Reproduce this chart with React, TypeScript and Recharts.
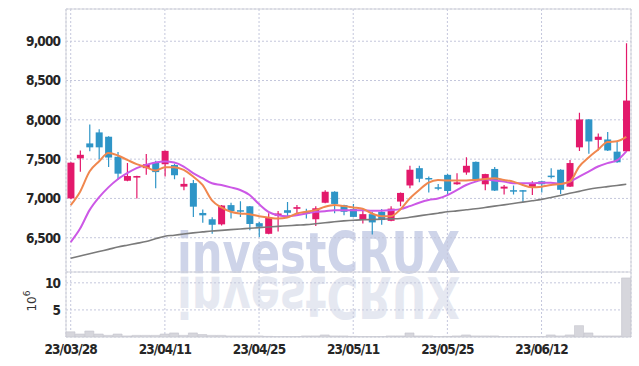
import {
  Bar,
  CartesianGrid,
  ComposedChart,
  Line,
  ReferenceArea,
  XAxis,
  YAxis,
} from "recharts";

const dates = [
  "23/03/28", "23/03/29", "23/03/30", "23/03/31", "23/04/03", "23/04/04", "23/04/05", "23/04/06", "23/04/07", "23/04/10",
  "23/04/11", "23/04/12", "23/04/13", "23/04/14", "23/04/17", "23/04/18", "23/04/19", "23/04/20", "23/04/21", "23/04/24",
  "23/04/25", "23/04/26", "23/04/27", "23/04/28", "23/05/02", "23/05/03", "23/05/04", "23/05/08", "23/05/09", "23/05/10",
  "23/05/11", "23/05/12", "23/05/15", "23/05/16", "23/05/17", "23/05/18", "23/05/19", "23/05/22", "23/05/23", "23/05/24",
  "23/05/25", "23/05/26", "23/05/30", "23/05/31", "23/06/01", "23/06/02", "23/06/05", "23/06/07", "23/06/08", "23/06/09",
  "23/06/12", "23/06/13", "23/06/14", "23/06/15", "23/06/16", "23/06/19", "23/06/20", "23/06/21", "23/06/22", "23/06/23",
];

const opens = [
  7000, 7510, 7700, 7840, 7785, 7530, 7225, 7265, 7385, 7455,
  7435, 7425, 7150, 7195, 6815, 6735, 6670, 6915, 6850, 6900,
  6685, 6550, 6780, 6850, 6868, 6830, 6735, 6945, 7085, 6915,
  6865, 6725, 6800, 6830, 6715, 6960, 7165, 7385, 7260, 7142,
  7300, 7180, 7330, 7465, 7180, 7375, 7125, 7105, 7105, 7140,
  7218, 7290, 7365, 7150, 7650, 8005, 7745, 7750, 7595, 7600,
];
const highs = [
  7460, 7610, 7940, 7880, 7790, 7590, 7450, 7290, 7565, 7480,
  7610, 7440, 7265, 7235, 6860, 6760, 6915, 6945, 6965, 6905,
  6700, 6810, 6840, 6955, 6915, 6870, 6900, 7105, 7090, 6920,
  6930, 6870, 6830, 6865, 6900, 7075, 7415, 7415, 7280, 7185,
  7310, 7320, 7525, 7470, 7315, 7400, 7170, 7165, 7108, 7220,
  7225, 7385, 7370, 7490, 8090, 8010, 7825, 7845, 7725, 8975,
];
const lows = [
  6990, 7340, 7600, 7500, 7400, 7235, 7220, 7000, 7300, 7130,
  7280, 7245, 7105, 6765, 6690, 6550, 6655, 6745, 6765, 6595,
  6510, 6545, 6580, 6765, 6808, 6745, 6650, 6940, 6810, 6785,
  6765, 6680, 6540, 6665, 6710, 6900, 7130, 7205, 7075, 7105,
  7050, 7175, 7300, 7230, 7105, 7095, 7050, 7050, 6950, 7045,
  7075, 7255, 7055, 7145, 7605, 7570, 7610, 7605, 7455, 7595,
];
const closes = [
  7455, 7555, 7650, 7650, 7520, 7315, 7285, 7285, 7435, 7335,
  7605, 7295, 7185, 6895, 6785, 6665, 6910, 6840, 6842, 6675,
  6640, 6755, 6808, 6817, 6889, 6805, 6875, 7085, 6930, 6830,
  6765, 6800, 6695, 6725, 6870, 7070, 7365, 7250, 7255, 7140,
  7095, 7205, 7415, 7235, 7310, 7100, 7150, 7100, 7102, 7185,
  7180, 7285, 7110, 7450, 8005, 7725, 7785, 7610, 7460, 8245,
];

const ma5 = [
  6915, 7086, 7342, 7470, 7577, 7547, 7491, 7436, 7398, 7355,
  7398, 7398, 7363, 7278, 7171, 6975, 6885, 6830, 6808, 6800,
  6774, 6757, 6744, 6757, 6808, 6830, 6851, 6894, 6915, 6902,
  6885, 6868, 6808, 6774, 6774, 6860, 7000, 7107, 7201, 7235,
  7227, 7227, 7227, 7235, 7248, 7257, 7235, 7214, 7171, 7141,
  7150, 7171, 7184, 7214, 7406, 7521, 7620, 7718, 7726, 7782,
];
const ma20 = [
  6445, 6616, 6851, 7013, 7141, 7244, 7321, 7385, 7427, 7457,
  7470, 7457, 7406, 7321, 7257, 7193, 7171, 7141, 7107, 7043,
  6928, 6830, 6787, 6774, 6787, 6808, 6830, 6838, 6851, 6851,
  6851, 6851, 6842, 6842, 6851, 6864, 6902, 6945, 6979, 7000,
  7043, 7107, 7171, 7214, 7244, 7227, 7214, 7193, 7193, 7193,
  7201, 7201, 7184, 7214, 7278, 7342, 7406, 7449, 7483, 7598,
];
const ma60 = [
  6240, 6268, 6296, 6325, 6352, 6381, 6405, 6428, 6452, 6487,
  6518, 6532, 6548, 6562, 6574, 6586, 6594, 6603, 6612, 6620,
  6629, 6637, 6645, 6652, 6660, 6667, 6678, 6690, 6703, 6714,
  6723, 6728, 6732, 6736, 6740, 6744, 6760, 6778, 6796, 6812,
  6830, 6842, 6855, 6868, 6885, 6902, 6918, 6935, 6953, 6970,
  6988, 7012, 7038, 7065, 7090, 7116, 7135, 7150, 7165, 7180,
];

// volume in millions of shares
const volumes = [
  0.95, 0.55, 1.1, 0.55, 0.3, 0.55, 0.2, 0.3, 0.3, 0.3,
  0.55, 0.75, 0.3, 0.75, 0.45, 0.3, 0.3, 0.2, 0.2, 0.2,
  0.2, 0.12, 0.05, 0.05, 0.05, 0.2, 0.2, 0.38, 0.2, 0.2,
  0.12, 0.05, 0.05, 0.05, 0.2, 0.2, 0.75, 0.2, 0.2, 0.05,
  0.12, 0.2, 0.38, 0.2, 0.2, 0.2, 0.05, 0.05, 0.05, 0.05,
  0.05, 0.38, 0.2, 0.38, 2.1, 0.75, 0.2, 0.2, 0.2, 10.9,
];

const dateTicks = ["23/03/28", "23/04/11", "23/04/25", "23/05/11", "23/05/25", "23/06/12"];
const priceTicks = [6500, 7000, 7500, 8000, 8500, 9000];
const volumeTicks = [5, 10];

const PRICE_DOMAIN = [6064, 9410];
const VOLUME_DOMAIN = [0, 12];

const UP_COLOR = "#e3196b";
const DOWN_COLOR = "#2f95c7";
const MA5_COLOR = "#f0874e";
const MA20_COLOR = "#cc58e6";
const MA60_COLOR = "#7a7a7a";
const GRID_COLOR = "#c4c7dc";
const FRAME_COLOR = "#d2d3da";
const TICK_FONT = "'DejaVu Sans Condensed', 'DejaVu Sans', sans-serif";

const WIDTH = 639;
const MARGIN_RIGHT = 8;
const AXIS_WIDTH = 66;

const chartData = dates.map((date, index) => ({
  date,
  open: opens[index],
  high: highs[index],
  low: lows[index],
  close: closes[index],
  range: [lows[index], highs[index]],
  ma5: ma5[index],
  ma20: ma20[index],
  ma60: ma60[index],
  volume: volumes[index],
}));

const tickStyle = {
  fill: "#262626",
  fontSize: 13.5,
  fontWeight: 700,
  fontFamily: TICK_FONT,
  letterSpacing: -0.9,
};

function Candle(props: any) {
  const { x, y, width, height, payload } = props;
  if (!payload) return null;
  const { open, close, high, low } = payload;
  const color = close >= open ? UP_COLOR : DOWN_COLOR;
  const top = Math.min(y, y + height);
  const span = Math.abs(height);
  const ratio = span / Math.max(high - low, 1);
  const cx = x + width / 2;
  const bodyTop = top + (high - Math.max(open, close)) * ratio;
  const bodyHeight = Math.max(Math.abs(open - close) * ratio, 1.5);
  const bodyWidth = 7;

  return (
    <g>
      <line x1={cx} x2={cx} y1={top} y2={top + span} stroke={color} strokeWidth={1.2} />
      <rect
        x={cx - bodyWidth / 2}
        y={bodyTop}
        width={bodyWidth}
        height={bodyHeight}
        fill={color}
      />
    </g>
  );
}

function VolumeUnit(props: any) {
  const { viewBox } = props;
  if (!viewBox) return null;
  const cx = viewBox.x + 32;
  const cy = viewBox.y + 29;
  return (
    <text
      x={cx}
      y={cy}
      transform={`rotate(-90 ${cx} ${cy})`}
      textAnchor="middle"
      dominantBaseline="middle"
      fill="#333"
      fontSize={12}
      fontFamily="'DejaVu Sans', sans-serif"
    >
      10
      <tspan dy={-5} fontSize={9}>
        6
      </tspan>
    </text>
  );
}

function Watermark() {
  const font = "'DejaVu Sans', sans-serif";
  return (
    <svg
      width={WIDTH}
      height={366}
      style={{ position: "absolute", left: 0, top: 0, pointerEvents: "none" }}
    >
      <text
        x={177}
        y={273}
        textLength={283}
        lengthAdjust="spacingAndGlyphs"
        fontFamily={font}
        fontWeight={700}
        fontSize={57}
        fill="#ced4e9"
      >
        investCRUX
      </text>
      <text
        x={177}
        y={273}
        textLength={283}
        lengthAdjust="spacingAndGlyphs"
        fontFamily={font}
        fontWeight={700}
        fontSize={57}
        fill="#e5e8f1"
        transform="translate(0 550) scale(1 -1)"
      >
        investCRUX
      </text>
    </svg>
  );
}

export default function App() {
  return (
    <div
      style={{
        position: "absolute",
        left: 0,
        top: 0,
        width: WIDTH,
        height: 366,
        background: "#ffffff",
      }}
    >
      <Watermark />
      <div style={{ position: "absolute", left: 0, top: 0 }}>
        <ComposedChart
          width={WIDTH}
          height={272}
          data={chartData}
          margin={{ top: 9, right: MARGIN_RIGHT, bottom: 0, left: 0 }}
        >
          <CartesianGrid stroke={GRID_COLOR} strokeDasharray="2 2" />
          <XAxis dataKey="date" hide ticks={dateTicks} />
          <YAxis
            width={AXIS_WIDTH}
            domain={PRICE_DOMAIN}
            ticks={priceTicks}
            allowDataOverflow
            axisLine={false}
            tickLine={false}
            tickMargin={0}
            tick={tickStyle}
            tickFormatter={(value) => Number(value).toLocaleString("en-US")}
          />
          <ReferenceArea
            x1={dates[0]}
            x2={dates[dates.length - 1]}
            y1={PRICE_DOMAIN[0]}
            y2={PRICE_DOMAIN[1]}
            fill="none"
            stroke={FRAME_COLOR}
            strokeWidth={1}
            ifOverflow="visible"
          />
          <Bar dataKey="range" shape={<Candle />} isAnimationActive={false} />
          <Line
            type="monotone"
            dataKey="ma60"
            stroke={MA60_COLOR}
            strokeWidth={1.6}
            dot={false}
            activeDot={false}
            isAnimationActive={false}
          />
          <Line
            type="monotone"
            dataKey="ma20"
            stroke={MA20_COLOR}
            strokeWidth={2}
            dot={false}
            activeDot={false}
            isAnimationActive={false}
          />
          <Line
            type="monotone"
            dataKey="ma5"
            stroke={MA5_COLOR}
            strokeWidth={2}
            dot={false}
            activeDot={false}
            isAnimationActive={false}
          />
        </ComposedChart>
      </div>
      <div style={{ position: "absolute", left: 0, top: 272 }}>
        <ComposedChart
          width={WIDTH}
          height={94}
          data={chartData}
          barCategoryGap={0}
          margin={{ top: 0, right: MARGIN_RIGHT, bottom: 0, left: 0 }}
        >
          <CartesianGrid stroke={GRID_COLOR} strokeDasharray="2 2" />
          <XAxis
            dataKey="date"
            ticks={dateTicks}
            height={29}
            axisLine={false}
            tickLine={false}
            tickSize={6}
            tickMargin={1}
            tick={tickStyle}
          />
          <YAxis
            width={AXIS_WIDTH}
            domain={VOLUME_DOMAIN}
            ticks={volumeTicks}
            allowDataOverflow
            axisLine={false}
            tickLine={false}
            tickMargin={0}
            tick={tickStyle}
            label={<VolumeUnit />}
          />
          <ReferenceArea
            x1={dates[0]}
            x2={dates[dates.length - 1]}
            y1={VOLUME_DOMAIN[0]}
            y2={VOLUME_DOMAIN[1]}
            fill="none"
            stroke={FRAME_COLOR}
            strokeWidth={1}
            ifOverflow="visible"
          />
          <Bar
            dataKey="volume"
            fill="#d6d6dc"
            stroke="#c4c4cc"
            strokeWidth={0.6}
            isAnimationActive={false}
          />
        </ComposedChart>
      </div>
    </div>
  );
}
